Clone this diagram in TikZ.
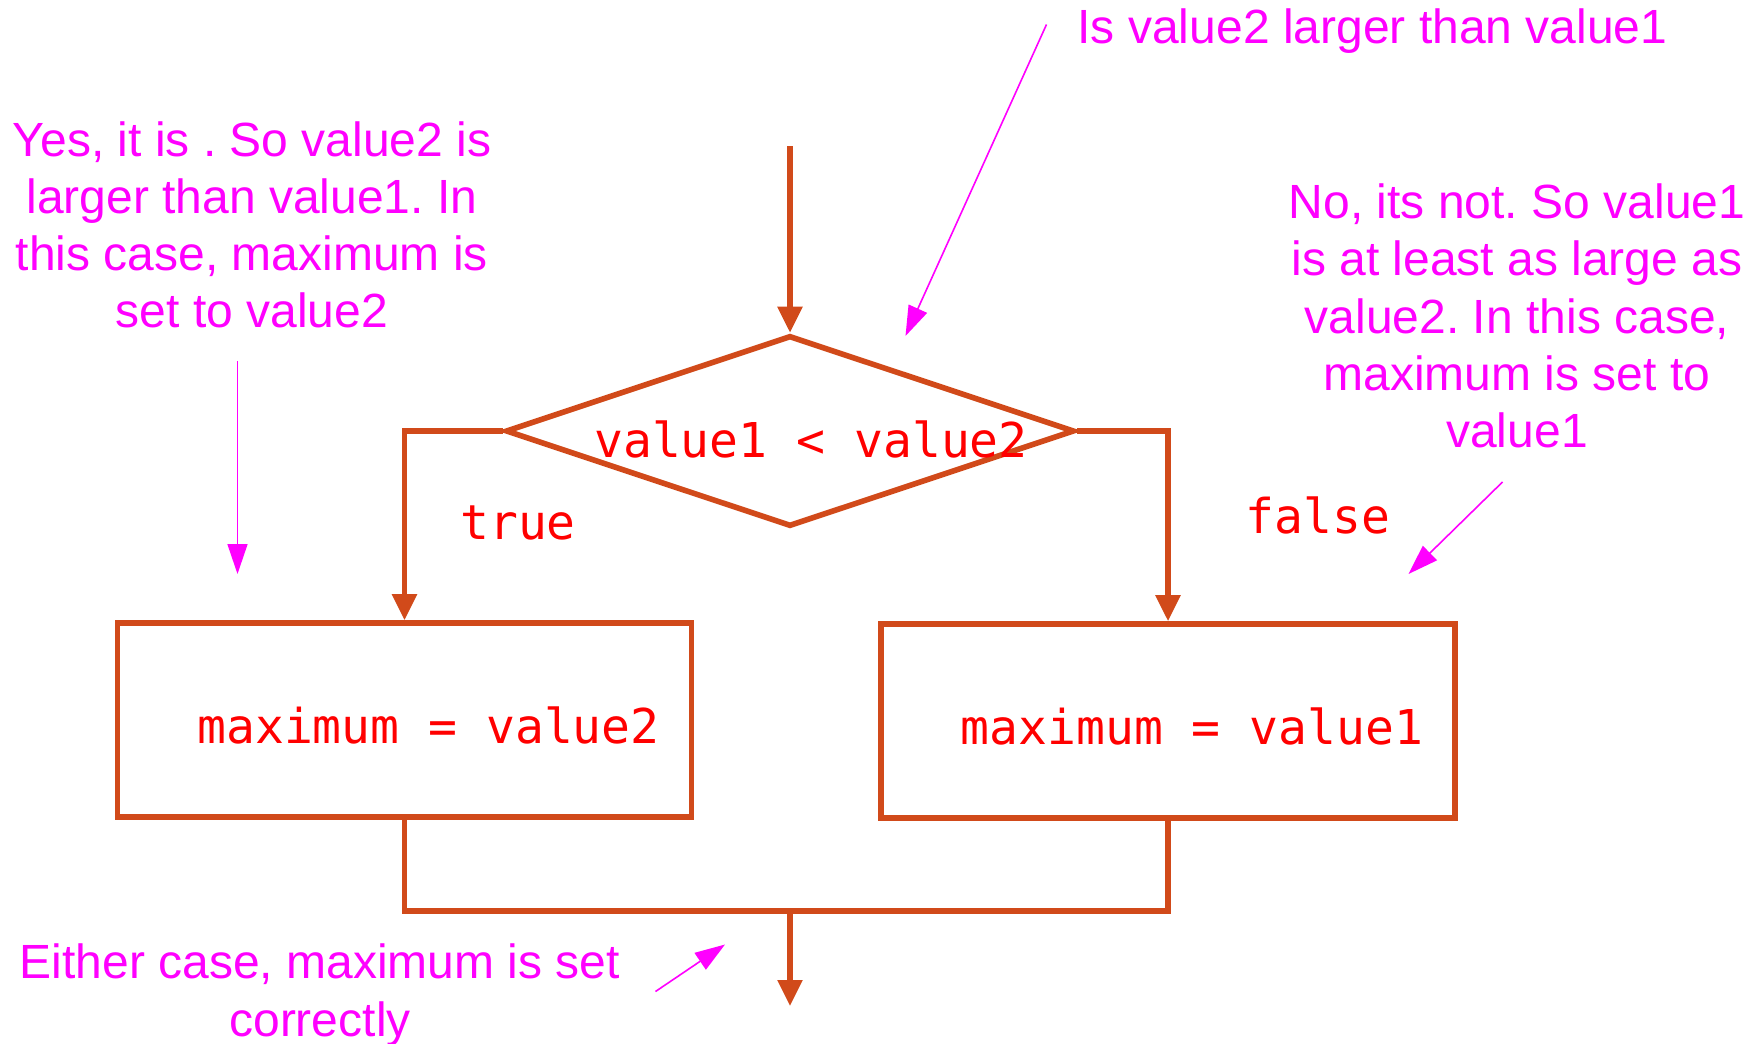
\documentclass[tikz,border=0pt]{standalone}
\usepackage{fontspec}
\setmainfont{Liberation Sans}
\newfontfamily\codefont{DejaVu Sans Mono}
\usetikzlibrary{arrows.meta,shapes.geometric,positioning}
\definecolor{flowline}{RGB}{209,74,26}
\definecolor{notepink}{RGB}{255,0,255}
\definecolor{codered}{RGB}{255,0,0}
\frenchspacing

\begin{document}
\begin{tikzpicture}[x=0.5pt,y=-0.5pt,
  decision/.style={diamond,draw=flowline,line width=2.8pt,inner sep=0pt,
                   minimum width=284.5pt,minimum height=95.5pt},
  stmt/.style={draw=flowline,line width=2.8pt,minimum width=287pt,
               minimum height=97pt,text height=24pt,
               font=\codefont\fontsize{24}{28}\selectfont,text=codered},
  code/.style={font=\codefont\fontsize{24}{28}\selectfont,text=codered,
               inner sep=0pt},
  note/.style={font=\fontsize{24}{28.6}\selectfont,text=notepink,
               align=center,inner sep=0pt},
  flow/.style={-{Triangle[length=13pt,width=12pt]},line width=2.8pt,
               color=flowline},
  link/.style={line width=2.8pt,color=flowline},
  hint/.style={-{Triangle[length=15pt,width=10pt]},line width=0.8pt,
               color=notepink}]
\useasboundingbox (0,0) rectangle (1757,1044);
% decision and the two assignments
\coordinate (start) at (790,146);
\node[decision] (cmp) at (790,431) {};
\node[code] (cmptext) at (811,439) {value1 < value2};
\node[stmt] (setv2) at (404.5,720) {\hspace*{24pt}maximum = value2};
\node[stmt] (setv1) at (1168,721) {\hspace*{24pt}maximum = value1};
\node[code] (truelbl) at (518,523) {true};
\node[code] (falselbl) at (1318,515) {false};
\coordinate (join) at (790,911);
\coordinate (finish) at (790,1006);
\draw[flow] (start) -- (cmp.north);
\draw[flow] (cmp.west) -| (setv2.north);
\draw[flow] (cmp.east) -| (setv1.north);
\draw[link] (setv2.south) |- (join) -| (setv1.south);
\draw[flow] (join) -- (finish);
% annotations
\node[note] (qnote) at (1372.5,31) {Is value2 larger than value1};
\node[note] (yesnote) at (252,225)
  {Yes, it is . So value2 is\\larger than value1. In\\this case, maximum is\\set to value2};
\node[note] (nonote) at (1517,316)
  {No, its not. So value1\\is at least as large as\\value2. In this case,\\maximum is set to\\value1};
\node[note] (eithernote) at (320,995)
  {Either case, maximum is set\\correctly};
\coordinate (qa) at (1046.5,24.5);
\coordinate (qb) at (905.5,336);
\coordinate (ya) at (237.5,361);
\coordinate (yb) at (237.5,574);
\coordinate (na) at (1502.5,482);
\coordinate (nb) at (1408.5,574);
\coordinate (ea) at (655.5,991.5);
\coordinate (eb) at (725,944.5);
\draw[hint] (qa) -- (qb);
\draw[hint] (ya) -- (yb);
\draw[hint] (na) -- (nb);
\draw[hint] (ea) -- (eb);
\end{tikzpicture}
\end{document}
